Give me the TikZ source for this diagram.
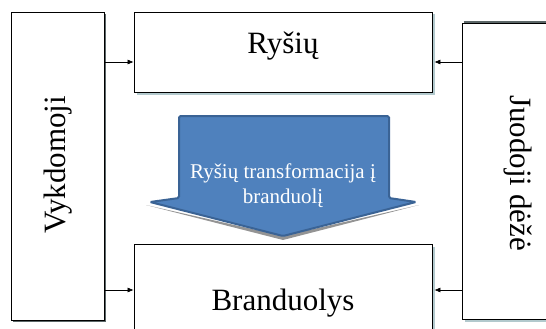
\documentclass[tikz,border=0pt]{standalone}
\usepackage{fontspec}
\setmainfont{Liberation Serif}
\usetikzlibrary{shadows,arrows.meta}
\definecolor{arrowfill}{HTML}{4F81BD}
\definecolor{arrowedge}{HTML}{3A6395}
\definecolor{shadelight}{HTML}{B2C9CD}
\definecolor{shadedark}{HTML}{5B6667}
\tikzset{
  box/.style={draw=black, line width=0.8pt, fill=white, inner sep=0pt},
  lightshadow/.style={drop shadow={shadow xshift=2.5pt, shadow yshift=-2.5pt, fill=shadelight, opacity=1}},
  darkshadow/.style={drop shadow={shadow xshift=2pt, shadow yshift=-2pt, fill=shadedark, opacity=1}},
  link/.style={draw=black, line width=0.6pt, -{Latex[length=6pt,width=5pt]}},
  bigtext/.style={font=\fontsize{31}{37}\selectfont, inner sep=0pt},
  arrowtext/.style={font=\fontsize{21}{25}\selectfont, text=white, align=center, inner sep=0pt}
}
\begin{document}
\begin{tikzpicture}[x=1pt,y=-1pt]
  \useasboundingbox (0,0) rectangle (546,329);
  \clip (0,0) rectangle (546,329);

  % side boxes
  \node[box, darkshadow, minimum width=93pt, minimum height=308pt] (vk) at (57.5,166) {};
  \node[box, lightshadow, minimum width=100pt, minimum height=296pt] (jd) at (512,171) {};
  \draw[shadedark, line width=1.6pt] ([xshift=2pt,yshift=0.5pt]jd.north west) -- ([yshift=0.5pt]jd.north east);

  % middle boxes
  \node[box, lightshadow, minimum width=298pt, minimum height=80pt] (rys) at (283,52) {};
  \node[box, lightshadow, minimum width=298pt, minimum height=100pt] (br) at (283,294) {};

  % labels
  \node[bigtext, anchor=base] (rysT) at (283,53) {Ryšių};
  \node[bigtext, anchor=base] (brT) at (283,310) {Branduolys};
  \node[bigtext, anchor=base, rotate=90] (vkT) at (65,165) {Vykdomoji};
  \node[bigtext, anchor=base, rotate=-90] (jdT) at (510,173) {Juodoji dėžė};

  % connectors
  \draw[link] (vk.east |- 0,62) -- (rys.west |- 0,62);
  \draw[link] (vk.east |- 0,290) -- (br.west |- 0,290);
  \draw[link] (jd.west |- 0,62) -- ([xshift=2pt]rys.east |- 0,62);
  \draw[link] (jd.west |- 0,290) -- ([xshift=2pt]br.east |- 0,290);

  % block arrow: shadow under the wings, then the arrow itself
  \fill[black!70, opacity=0.6]
    (146,205) -- (283,240) -- (419,205) -- (283,236) -- cycle;
  \draw[arrowedge, fill=arrowfill, line width=2pt, rounded corners=1.5pt]
    (179,116) -- (389,116) -- (389,198) -- (416,202) -- (283,236)
    -- (150,202) -- (179,198) -- cycle;
  \node[arrowtext] (arrT) at (283,186) {Ryšių transformacija į\\branduolį};
\end{tikzpicture}
\end{document}
